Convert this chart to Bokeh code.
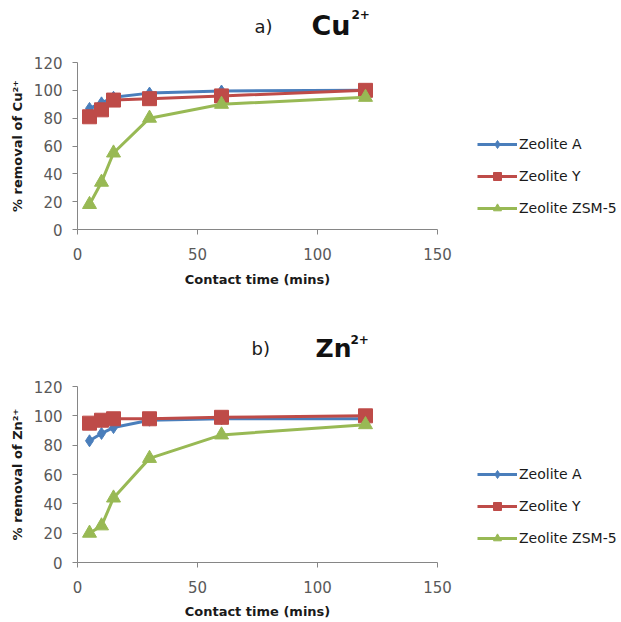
import math
from bokeh.plotting import figure
from bokeh.models import Range1d, FixedTicker, Legend, LegendItem, Label, LinearAxis
from bokeh.layouts import column
from bokeh.embed import file_html
from bokeh.resources import INLINE

time_min = [5, 10, 15, 30, 60, 120]
series_names = ["Zeolite A", "Zeolite Y", "Zeolite ZSM-5"]

cu_zeolite_a = [87, 91, 95, 98, 99.5, 100]
cu_zeolite_y = [81, 86, 93, 94, 96, 100]
cu_zsm5 = [18, 34, 55, 80, 90, 95]

zn_zeolite_a = [83, 88, 92, 97, 98, 98]
zn_zeolite_y = [95, 97, 98, 98, 99, 100]
zn_zsm5 = [20, 25, 44, 71, 87, 94]

x_ticks = [0, 50, 100, 150]
y_ticks = [0, 20, 40, 60, 80, 100, 120]
x_title = "Contact time (mins)"

COLORS = ["#4A7EBB", "#BE4B48", "#98B954"]
MARKERS = ["diamond", "square", "triangle"]
SIZES = [12, 14, 14]
FONT = "DejaVu Sans"

# layout (pixels inside each figure)
FIG_W = 620
FIG_H = 310
AX_LEFT = 77      # x of value 0 from figure left
AX_W = 360        # pixel length of the x axis
X_MIN, X_MAX = x_ticks[0], x_ticks[-1]
Y_MIN, Y_MAX = y_ticks[0], y_ticks[-1]


def make_chart(prefix, ion, ion_size, ylabel, data, ax_bottom, ax_h, title_pos, xt_y, legend_y):
    xs = AX_W / (X_MAX - X_MIN)
    ys = ax_h / (Y_MAX - Y_MIN)
    x0 = X_MIN - AX_LEFT / xs
    x1 = X_MIN + (FIG_W - AX_LEFT) / xs
    y0 = Y_MIN - ax_bottom / ys
    y1 = Y_MIN + (FIG_H - ax_bottom) / ys
    p = figure(width=FIG_W, height=FIG_H, output_backend="svg", toolbar_location=None,
               x_range=Range1d(x0, x1), y_range=Range1d(y0, y1),
               x_axis_type=None, y_axis_type=None,
               min_border_left=0, min_border_right=0, min_border_top=0, min_border_bottom=0)
    p.outline_line_color = None
    p.grid.visible = False

    xa = LinearAxis(fixed_location=Y_MIN, bounds=(X_MIN, X_MAX), ticker=FixedTicker(ticks=x_ticks))
    ya = LinearAxis(fixed_location=X_MIN, bounds=(Y_MIN, Y_MAX), ticker=FixedTicker(ticks=y_ticks))
    for ax in (xa, ya):
        ax.axis_line_color = "#868686"
        ax.axis_line_width = 1
        ax.major_tick_line_color = "#868686"
        ax.major_tick_out = 5
        ax.major_tick_in = 0
        ax.minor_tick_line_color = None
        ax.major_label_text_font = FONT
        ax.major_label_text_font_size = "15px"
        ax.major_label_text_color = "#595959"
    xa.major_label_standoff = 13
    ya.major_label_standoff = 10
    p.add_layout(xa, "below")
    p.add_layout(ya, "left")

    items = []
    for name, vals, c, m, s in zip(series_names, data, COLORS, MARKERS, SIZES):
        ln = p.line(time_min, vals, line_color=c, line_width=3)
        sc = p.scatter(time_min, vals, marker=m, size=s, fill_color=c, line_color=c)
        items.append(LegendItem(label=name, renderers=[ln, sc]))

    legend = Legend(items=items, location=(AX_LEFT + 400, legend_y), glyph_width=40,
                    glyph_height=20, label_height=20, label_standoff=2, spacing=12,
                    padding=0, margin=0, border_line_color=None, background_fill_alpha=0,
                    label_text_font=FONT, label_text_font_size="14px",
                    label_text_color="#1a1a1a")
    p.add_layout(legend, "center")

    # axis titles
    p.add_layout(Label(x=(X_MIN + X_MAX) / 2, y=xt_y, x_units="data", y_units="screen",
                       text=x_title, text_align="center", text_baseline="middle",
                       text_font=FONT, text_font_style="bold", text_font_size="13px",
                       text_color="#1a1a1a"))
    p.add_layout(Label(x=17, y=(Y_MIN + Y_MAX) / 2, x_units="screen", y_units="data",
                       text=ylabel, angle=math.pi / 2, text_align="center",
                       text_baseline="middle", text_font=FONT, text_font_style="bold",
                       text_font_size="13px", text_color="#1a1a1a"))

    # chart heading
    (px, py), (ix, iy), (sx, sy) = title_pos
    p.add_layout(Label(x=px, y=py, x_units="screen", y_units="screen", text=prefix,
                       text_font=FONT, text_font_size="18px", text_color="#1a1a1a",
                       text_baseline="alphabetic"))
    p.add_layout(Label(x=ix, y=iy, x_units="screen", y_units="screen", text=ion,
                       text_font=FONT, text_font_style="bold", text_font_size=ion_size,
                       text_color="#111111", text_baseline="alphabetic"))
    p.add_layout(Label(x=sx, y=sy, x_units="screen", y_units="screen", text="2+",
                       text_font=FONT, text_font_style="bold", text_font_size="12px",
                       text_color="#111111", text_baseline="alphabetic"))
    return p


p1 = make_chart("a)", "Cu", "27px", "% removal of Cu²⁺", [cu_zeolite_a, cu_zeolite_y, cu_zsm5],
                ax_bottom=81, ax_h=167,
                title_pos=((254, 284), (311, 285), (351, 296)), xt_y=31, legend_y=92)
p2 = make_chart("b)", "Zn", "25px", "% removal of Zn²⁺", [zn_zeolite_a, zn_zeolite_y, zn_zsm5],
                ax_bottom=58, ax_h=176,
                title_pos=((251, 272), (315, 272), (350, 281)), xt_y=9, legend_y=72)

layout = column(p1, p2, spacing=0)
open("out.html", "w").write(file_html(layout, INLINE))
